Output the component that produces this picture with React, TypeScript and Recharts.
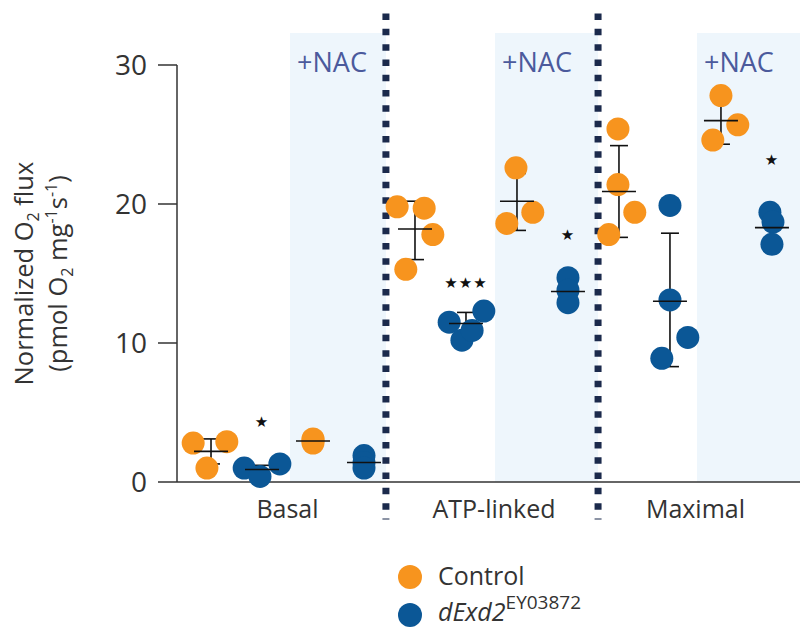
import React from 'react';
import {
  ScatterChart, Scatter, XAxis, YAxis, ErrorBar, ReferenceArea, ReferenceLine, Customized
} from 'recharts';

const FONT = "'Open Sans', 'Noto Sans', sans-serif";
const TEXT = '#333333';
const ORANGE = '#f7941e';
const BLUE = '#0b5796';
const DIVIDER = '#1b2a4c';
const NAC_FILL = '#eef6fc';
const NAC_TEXT = '#4b5a9c';

// columns: per group -> control, mutant, control +NAC, mutant +NAC
const groups = ['Basal', 'ATP-linked', 'Maximal'];
const groupTicks = [1.5, 5.55, 9.5];
const yTicks = [0, 10, 20, 30];

// individual flies (x = column + jitter)
const controlX = [-0.35, 0.31, -0.08, 2, 2, 2, 3.65, 4.18, 4.35, 3.82, 5.98, 6.31, 5.8, 7.98, 7.98, 8.31, 7.8, 10, 10.33, 9.84];
const controlY = [2.8, 2.9, 1.0, 2.8, 3.0, 3.1, 19.8, 19.7, 17.8, 15.3, 22.6, 19.4, 18.6, 25.4, 21.4, 19.4, 17.8, 27.8, 25.7, 24.6];
const mutantX = [0.65, 0.96, 1.35, 3, 3, 3, 4.67, 4.92, 5.12, 5.35, 7, 7, 7, 9, 9, 9.35, 8.84, 10.96, 11.02, 11];
const mutantY = [1.0, 0.4, 1.3, 1.9, 1.4, 1.0, 11.5, 10.2, 10.9, 12.3, 14.7, 13.8, 12.9, 19.9, 13.1, 10.4, 8.9, 19.4, 18.7, 17.1];

// mean and error bar ends per column
const meanY = [2.2, 0.9, 2.95, 1.4, 18.2, 11.4, 20.2, 13.7, 20.9, 13.0, 26.0, 18.3];
const barLow = [1.3, 0.5, 2.8, 0.9, 16.0, 10.3, 18.1, 12.7, 17.6, 8.3, 24.3, 17.3];
const barHigh = [3.1, 1.2, 3.1, 1.9, 20.2, 12.2, 22.2, 14.6, 24.2, 17.9, 27.7, 19.6];

// significance marks
const starX = [1, 5, 7, 11];
const starY = [4.3, 14.3, 17.8, 23.2];
const starText = ['★', '★★★', '★', '★'];

// +NAC shaded spans and dotted dividers
const nacStart = [1.55, 5.57, 9.53];
const nacEnd = [3.43, 7.59, 11.55];
const dividers = [3.43, 7.59];

const controlData = controlX.map((x, i) => ({ x, y: controlY[i] }));
const mutantData = mutantX.map((x, i) => ({ x, y: mutantY[i] }));
const meanData = meanY.map((y, i) => ({ x: i, y, err: [y - barLow[i], barHigh[i] - y] }));
const starData = starX.map((x, i) => ({ x, y: starY[i], label: starText[i] }));

const dot = (color: string) => (props: any) => (
  <circle cx={props.cx} cy={props.cy} r={11.5} fill={color} />
);

const meanLine = (props: any) => (
  <line x1={props.cx - 17} x2={props.cx + 17} y1={props.cy} y2={props.cy} stroke="#111" strokeWidth={1.6} />
);

const starMark = (props: any) => (
  <text x={props.cx} y={props.cy} textAnchor="middle" dominantBaseline="central"
    fontSize={15} fill="#111" fontFamily="DejaVu Sans" letterSpacing={1}>
    {props.payload.label}
  </text>
);

const nacLabel = (props: any) => {
  const { x, y } = props.viewBox;
  return (
    <text x={x + 7} y={y + 39} fill={NAC_TEXT} fontSize={27} fontFamily={FONT}>+NAC</text>
  );
};

const yLabel = (props: any) => {
  const { y, height } = props.viewBox;
  const cy = y + height / 2;
  return (
    <g fill={TEXT} fontSize={25.5} fontFamily={FONT}>
      <text x={33} y={cy} textAnchor="middle" transform={`rotate(-90, 33, ${cy})`}>
        Normalized O<tspan dy={6} fontSize={16}>2</tspan><tspan dy={-6}> flux</tspan>
      </text>
      <text x={67} y={cy} textAnchor="middle" transform={`rotate(-90, 67, ${cy})`}>
        (pmol O<tspan dy={6} fontSize={16}>2</tspan><tspan dy={-6}> mg</tspan>
        <tspan dy={-10} fontSize={16}>-1</tspan><tspan dy={10}>s</tspan>
        <tspan dy={-10} fontSize={16}>-1</tspan><tspan dy={10}>)</tspan>
      </text>
    </g>
  );
};

const LegendBlock = () => (
  <g fontFamily={FONT} fill={TEXT}>
    <circle cx={410} cy={577} r={12} fill={ORANGE} />
    <text x={438} y={585} fontSize={25}>Control</text>
    <circle cx={410} cy={615} r={12} fill={BLUE} />
    <text x={438} y={621} fontSize={25}>
      <tspan fontStyle="italic">dExd2</tspan>
      <tspan dy={-12} fontSize={19}>EY03872</tspan>
    </text>
  </g>
);

export default function App() {
  return (
    <div style={{ width: 800, height: 630, background: '#fff' }}>
      <style>{'body { margin: 0; }'}</style>
      <ScatterChart width={800} height={630} margin={{ top: 65, right: 0, bottom: 0, left: 0 }}>
        {nacStart.map((s, i) => (
          <ReferenceArea key={`nac-${i}`} x1={s} x2={nacEnd[i]} y1={0} y2={32.3}
            fill={NAC_FILL} fillOpacity={1} stroke="none" ifOverflow="visible" label={nacLabel} />
        ))}
        <XAxis type="number" dataKey="x" domain={[-0.667, 11.55]} allowDataOverflow
          ticks={groupTicks} tickFormatter={(v, i) => groups[i]} interval={0}
          tickLine={false} tickSize={6} tickMargin={12} height={148}
          axisLine={{ stroke: TEXT, strokeWidth: 1.5 }}
          tick={{ fill: TEXT, fontSize: 25, fontFamily: FONT }} />
        <YAxis type="number" dataKey="y" domain={[0, 30]} ticks={yTicks} width={177}
          tickSize={19} tickMargin={11}
          axisLine={{ stroke: TEXT, strokeWidth: 1.5 }}
          tickLine={{ stroke: TEXT, strokeWidth: 1.5 }}
          tick={{ fill: TEXT, fontSize: 28, fontFamily: FONT }}
          label={yLabel} />
        <Scatter data={controlData} shape={dot(ORANGE)} isAnimationActive={false} />
        <Scatter data={mutantData} shape={dot(BLUE)} isAnimationActive={false} />
        <Scatter data={meanData} shape={meanLine} isAnimationActive={false}>
          <ErrorBar dataKey="err" direction="y" width={9} stroke="#111" strokeWidth={1.6} isAnimationActive={false} />
        </Scatter>
        <Scatter data={starData} shape={starMark} isAnimationActive={false} />
        {dividers.map((d, i) => (
          <ReferenceLine key={`div-${i}`} segment={[{ x: d, y: 33.7 }, { x: d, y: -2.7 }]}
            stroke={DIVIDER} strokeWidth={7} strokeDasharray="6.5 8.8" ifOverflow="visible" />
        ))}
        <Customized component={LegendBlock} />
      </ScatterChart>
    </div>
  );
}
